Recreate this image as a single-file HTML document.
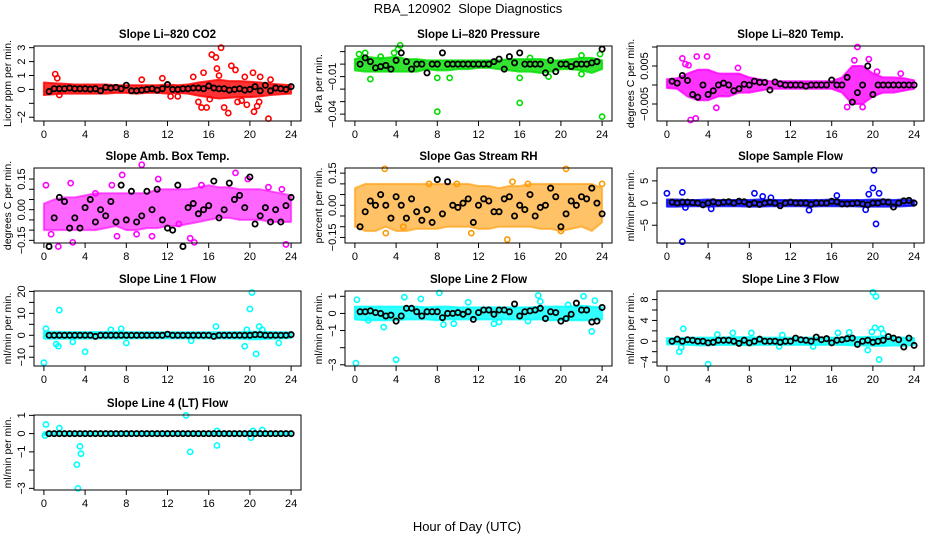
<!DOCTYPE html>
<html><head><meta charset="utf-8"><style>
html,body{margin:0;padding:0;background:#fff}
svg{display:block;font-family:"Liberation Sans",sans-serif}
</style></head><body>
<svg id="c" width="936" height="540">
<text x="468" y="13" font-size="13" text-anchor="middle">RBA_120902&#160; Slope Diagnostics</text>
<text x="467" y="531" font-size="13" text-anchor="middle">Hour of Day (UTC)</text>
</svg>
<script>
const meanHours=[0.5,1,1.5,2,2.5,3,3.5,4,4.5,5,5.5,6,6.5,7,7.5,8,8.5,9,9.5,10,10.5,11,11.5,12,12.5,13,13.5,14,14.5,15,15.5,16,16.5,17,17.5,18,18.5,19,19.5,20,20.5,21,21.5,22,22.5,23,23.5,24];
const bandHours=[0,1,2,3,4,5,6,7,8,9,10,11,12,13,14,15,16,17,18,19,20,21,22,23,24];
const xTicks=[0,4,8,12,16,20,24];

const co2Hi=[0.5,0.45,0.4,0.35,0.35,0.35,0.35,0.3,0.3,0.3,0.3,0.3,0.35,0.3,0.35,0.5,0.6,0.7,0.6,0.6,0.55,0.5,0.4,0.35,0.3];
const co2Lo=[-0.4,-0.35,-0.3,-0.3,-0.3,-0.3,-0.3,-0.25,-0.25,-0.3,-0.25,-0.25,-0.3,-0.25,-0.3,-0.45,-0.55,-0.65,-0.6,-0.55,-0.55,-0.5,-0.4,-0.35,-0.3];
const co2OutH=[1.1,1.3,9.5,11.5,14.5,15,15.3,15.5,15.8,16.3,16.7,17.2,17.5,17.9,18.2,18.6,19.7,20.3,20.4,20.7,21.8,16.8,19.2,12.3,13,21,22,1.5,17,18.8,19.5,16.1,20.9];
const co2OutV=[1.1,0.8,0.7,0.8,0.9,-0.9,-1.3,1.2,-1.3,2.5,2.3,3,-1.3,-1.7,1.7,1.4,-1.1,1.2,-1.6,-1.2,-2.1,1.5,-0.8,-0.5,-0.5,0.9,0.7,-0.4,1.0,-0.9,0.9,-0.7,-0.9];
const co2Mean=[-0.15,0.05,0.05,0.05,0.1,0.05,0.05,0.05,0.02,0.05,-0.1,0.15,0.1,0.15,0.05,0.3,-0.1,-0.1,-0.05,0.0,0.05,-0.05,0.05,0.35,0.0,0.0,0.05,0.05,0.1,0.1,0.05,0.25,0.1,0.05,0.05,-0.05,0.0,0.05,-0.05,0.0,0.2,-0.1,0.3,-0.1,0.1,0.05,0.0,0.2];
const co2Ticks=[-2,-1,0,1,2,3];
const co2Labels=["\u22122","","0","1","2","3"];

const presHi=[0.004,0.006,0.005,0.005,0.006,0.004,0.004,0.003,0.003,0.003,0.003,0.003,0.003,0.003,0.003,0.004,0.004,0.004,0.004,0.003,0.003,0.004,0.005,0.005,0.003];
const presLo=[-0.005,-0.006,-0.006,-0.006,-0.006,-0.006,-0.006,-0.004,-0.005,-0.005,-0.004,-0.004,-0.003,-0.003,-0.004,-0.005,-0.006,-0.006,-0.007,-0.006,-0.004,-0.004,-0.005,-0.007,-0.004];
const presOutH=[8,16,24,4.4,4.2,3.8,1,0.4,2.5,23.8,22,16,8,9.2,1.5,18.8,22,17];
const presOutV=[-0.038,-0.031,-0.042,0.015,0.012,0.009,0.009,0.008,0.006,0.008,-0.008,-0.011,-0.011,-0.011,-0.012,-0.01,0.007,0.005];
const presMean=[0,0.005,0.002,-0.003,-0.002,-0.001,-0.004,0.003,0.009,0.002,-0.004,0,0,-0.007,0,0,0.009,0,0,0,0,0,0,0,0,0,0.002,0.004,-0.004,0.006,0.001,0.009,0,0,0,0,-0.007,0.003,-0.006,0,0,-0.002,0,0,0,0.001,0.002,0.012];
const presTicks=[0.01,0,-0.01,-0.02,-0.03,-0.04];
const presLabels=["","","\u22120.01","","","\u22120.04"];

const tempHi=[0.0015,0.0018,0.003,0.004,0.004,0.003,0.003,0.003,0.002,0.0015,0.001,0.001,0.001,0.001,0.001,0.001,0.001,0.002,0.005,0.005,0.003,0.002,0.002,0.0018,0.0012];
const tempLo=[-0.0008,-0.001,-0.003,-0.004,-0.004,-0.003,-0.003,-0.002,-0.002,-0.0015,-0.001,-0.001,-0.001,-0.001,-0.001,-0.001,-0.001,-0.002,-0.005,-0.005,-0.003,-0.002,-0.002,-0.0015,-0.001];
const tempOutH=[2.3,2.8,2.9,3.9,1.5,4.8,18.5,18.2,19.6,17.5,19,6.9,1.8,2.1,20.4,22.7];
const tempOutV=[-0.0092,-0.0088,0.0075,0.0075,0.007,-0.006,0.01,0.0065,0.0068,-0.0058,-0.0058,0.0045,0.0055,0.0052,0.0035,0.003];
const tempMean=[0.001,0.0005,0.0025,0.0012,-0.0025,-0.0032,0.0,-0.0025,-0.0015,0.0,0.0005,0.0,-0.0015,-0.001,0.0002,0.0,0.001,0.0007,0.0007,-0.0013,0.0008,0.0003,0.0,0.0,0.0,0.0,-0.0003,0.0,0.0,0.0,0.0,0.0013,0.0,0.0,0.002,-0.0045,-0.002,0.0,0.005,-0.0025,0.0,0.0,0.0,0.0,0.0,0.0,0.0,0.0];
const tempTicks=[0.01,0.005,0,-0.005];
const tempLabels=["","0.005","","\u22120.005"];

const ambHi=[0.03,0.05,0.06,0.06,0.07,0.08,0.08,0.08,0.08,0.08,0.08,0.1,0.1,0.1,0.1,0.11,0.12,0.11,0.11,0.1,0.1,0.1,0.09,0.08,0.07];
const ambLo=[-0.1,-0.1,-0.1,-0.1,-0.1,-0.1,-0.09,-0.08,-0.1,-0.1,-0.09,-0.09,-0.08,-0.08,-0.07,-0.06,-0.05,-0.04,-0.04,-0.05,-0.05,-0.05,-0.06,-0.06,-0.06];
const ambOutH=[0.2,1.4,2.6,2.8,5,7.1,7.6,9.5,10.5,11.1,13.1,14.2,14.6,15.3,18.6,19.8,21.8,23.5,23.1,9,0.7,6.6];
const ambOutV=[0.12,-0.18,0.13,-0.16,0.08,-0.13,0.17,0.22,-0.13,0.15,-0.07,-0.14,-0.16,0.12,0.18,0.15,0.11,-0.17,0.1,-0.12,-0.12,0.12];
const ambMean=[-0.18,-0.04,0.06,0.04,-0.09,-0.04,-0.09,0.01,0.05,-0.06,0.0,-0.03,0.04,-0.06,0.12,-0.05,0.09,-0.06,-0.03,0.09,0.0,0.1,-0.05,-0.09,-0.1,0.12,-0.18,0.01,0.03,-0.02,0.0,0.02,0.14,-0.04,0.0,0.13,0.05,0.07,0.01,0.16,-0.07,-0.03,0.01,-0.06,0.0,-0.06,0.02,0.06];
const ambTicks=[-0.15,-0.1,-0.05,0,0.05,0.1,0.15];
const ambLabels=["\u22120.15","","","0.00","","","0.15"];

const rhHi=[0.08,0.1,0.1,0.1,0.1,0.1,0.1,0.1,0.1,0.1,0.1,0.1,0.09,0.09,0.08,0.09,0.09,0.1,0.1,0.1,0.1,0.1,0.1,0.1,0.08];
const rhLo=[-0.1,-0.12,-0.12,-0.1,-0.12,-0.12,-0.11,-0.11,-0.11,-0.1,-0.1,-0.1,-0.11,-0.11,-0.1,-0.1,-0.1,-0.1,-0.11,-0.11,-0.12,-0.11,-0.1,-0.12,-0.08];
const rhOutH=[2.9,3,7.2,9.9,11.3,14.8,15.3,16.8,20.5,20,24,4.7];
const rhOutV=[0.17,-0.13,0.1,0.1,-0.13,-0.16,0.11,0.1,0.17,-0.12,0.1,-0.1];
const rhMean=[-0.1,-0.03,0.02,0.0,0.05,0.0,-0.06,0.04,0.0,-0.06,0.03,-0.03,-0.07,-0.02,-0.08,0.12,-0.04,0.11,0.0,-0.01,0.01,0.03,-0.08,0.0,0.03,0.02,-0.03,-0.03,0.03,0.04,-0.05,0.0,-0.02,0.05,-0.05,-0.01,0.0,0.08,0.04,-0.1,-0.04,0.02,0.0,0.04,0.03,0.08,0.01,-0.04];
const rhTicks=[-0.15,-0.1,-0.05,0,0.05,0.1,0.15];
const rhLabels=["\u22120.15","","","0.00","","","0.15"];

const sfHi=[0.8,0.8,0.7,0.7,0.8,0.7,0.7,0.7,0.7,0.8,0.7,0.7,0.7,0.7,0.7,0.7,0.8,0.7,0.7,0.7,0.8,0.8,0.7,0.8,0.6];
const sfLo=[-0.8,-0.8,-0.7,-0.7,-0.8,-0.7,-0.7,-0.7,-0.8,-0.8,-0.7,-0.7,-0.7,-0.7,-0.8,-0.7,-0.7,-0.7,-0.7,-0.8,-0.8,-0.8,-0.8,-0.7,-0.6];
const sfOutH=[0,1.5,1.5,8.5,9.3,10.1,16.5,19.3,19.6,20,20.1,20.3,20.6,13.8,4.3,1.8];
const sfOutV=[2.2,2.4,-8.7,2.2,1.5,1.2,1.7,-1.5,2,3.4,7.4,-4.7,2.2,-1.6,-1.3,-1];
const sfMean=[0.2,0.0,0.2,0.2,0.1,0.0,-0.4,0.0,0.3,0.0,0.2,0.3,0.0,0.4,0.3,-0.3,0.0,-0.3,0.0,0.2,0.0,-0.6,0.0,0.2,0.0,0.0,0.0,-0.3,0.0,0.0,0.0,0.4,0.3,-0.2,-0.2,-0.1,0.0,-0.2,-0.4,0.0,0.0,0.3,0.2,-0.9,0.0,0.5,0.6,0.0];
const sfTicks=[-5,0,5];
const sfLabels=["\u22125","0","5"];

const l1Hi=[1.6,1.6,1.5,1.5,1.5,1.5,1.5,1.6,1.5,1.4,1.4,1.4,1.4,1.4,1.4,1.4,1.4,1.4,1.4,1.5,1.6,1.6,1.5,1.4,1.3];
const l1Lo=[-1.5,-1.6,-1.5,-1.5,-1.5,-1.4,-1.4,-1.5,-1.4,-1.4,-1.4,-1.4,-1.4,-1.4,-1.4,-1.4,-1.4,-1.4,-1.4,-1.5,-1.8,-1.8,-1.6,-1.4,-1.3];
const l1OutH=[0,0.2,1.2,1.4,1.5,2.8,4,7.5,8,14.3,16.7,19.5,19.7,20,20.2,20.6,20.9,22.8,21.2,6.5];
const l1OutV=[-12.5,3,-4,-5,11.5,-3,-7.5,3,-3.5,-2.5,4,-5,2.5,12,19.5,-8.5,4,-3.5,2.5,2.5];
const l1Mean=[0,0,0,0,0,0,0,0,0,-0.5,0,0,0,0,0,0,0,0,0,0,0,0,0,0.5,0,0,0,0,0,0,0,0,-0.5,0,0,0,0,0,0,0,0.3,0.3,0,0,0,0,0,0.3];
const l1Ticks=[-10,-5,0,5,10,15,20];
const l1Labels=["\u221210","","0","","10","","20"];

const l2Hi=[0.4,0.4,0.4,0.4,0.4,0.4,0.4,0.35,0.4,0.4,0.35,0.35,0.35,0.35,0.35,0.35,0.35,0.35,0.4,0.4,0.4,0.4,0.45,0.4,0.35];
const l2Lo=[-0.35,-0.4,-0.4,-0.4,-0.4,-0.35,-0.35,-0.35,-0.4,-0.35,-0.35,-0.35,-0.35,-0.35,-0.35,-0.35,-0.35,-0.35,-0.35,-0.4,-0.4,-0.4,-0.4,-0.4,-0.35];
const l2OutH=[0.1,0.2,4,4.8,6.4,8.2,2.8,8.6,9.6,11,13.5,17.8,18,22.2,23,23.3,1.3,14,16.8,20.7];
const l2OutV=[-2.9,0.8,-2.7,0.95,0.85,1.2,-0.8,-0.65,-0.6,0.65,-0.6,1.05,0.7,1,-1.05,0.75,-0.4,-0.5,-0.45,0.5];
const l2Mean=[0.1,0.1,0.15,0.05,0,-0.15,-0.1,-0.45,-0.15,0.3,0.3,0.1,-0.15,0.1,0.1,0.1,-0.25,0,0,0.05,-0.05,0.1,-0.35,0.05,0.2,0.2,-0.05,0.2,0.2,0.1,0.55,-0.15,0.1,0.15,0.2,0.3,-0.3,0.1,0.05,-0.45,-0.3,-0.05,0.6,0.2,0.2,-0.5,-0.45,0.35];
const l2Ticks=[-3,-2,-1,0,1];
const l2Labels=["\u22123","","\u22121","0","1"];

const l3Hi=[0.6,0.6,0.7,0.7,0.7,0.7,0.8,0.8,0.8,0.7,0.7,0.7,0.7,0.7,0.7,0.7,0.7,0.7,0.8,0.8,0.9,0.9,0.8,0.7,0.6];
const l3Lo=[-0.6,-0.6,-0.7,-0.8,-0.8,-0.7,-0.7,-0.7,-0.8,-0.7,-0.7,-0.7,-0.7,-0.7,-0.7,-0.7,-0.7,-0.7,-0.8,-0.8,-0.9,-0.9,-0.8,-0.9,-0.7];
const l3OutH=[1.2,1.6,1.4,4,4.9,6.4,8.2,11.2,10.9,17.7,19.5,19.9,20,20.3,20.2,20.8,20.6,21,16.6,14.2];
const l3OutV=[-2,2.4,-1.2,-4.4,1.3,1.6,1.6,1.2,-1,1.7,-1.7,1.8,9.4,8.6,2.6,2.4,-3.5,1.5,1.6,-1];
const l3Mean=[0,0.4,0,0.3,0.2,0,0,-0.3,-0.2,0.2,0.2,0.2,0,-0.4,0.2,-0.3,0,0.4,0,0,0,-0.2,0,0,0.6,0.3,0.2,0,0.8,0.3,0.5,-0.3,0.2,0.3,0.5,0.6,-0.6,0,0.2,-0.2,0,0.2,0.9,0.6,0.3,-1.1,0.6,-0.8];
const l3Ticks=[-4,-2,0,2,4,6,8];
const l3Labels=["\u22124","","0","","4","","8"];

const l4Hi=[0.08,0.08,0.08,0.08,0.08,0.08,0.08,0.08,0.08,0.08,0.08,0.08,0.08,0.08,0.08,0.08,0.08,0.08,0.08,0.08,0.08,0.08,0.08,0.08,0.06];
const l4Lo=[-0.08,-0.08,-0.08,-0.08,-0.08,-0.08,-0.08,-0.08,-0.08,-0.08,-0.08,-0.08,-0.08,-0.08,-0.08,-0.08,-0.08,-0.08,-0.08,-0.08,-0.08,-0.08,-0.08,-0.08,-0.06];
const l4OutH=[0.2,1.5,3.2,3.3,3.5,3.6,13.8,14.2,16.8,16.8,20.1,20.3,21.2,0.1];
const l4OutV=[0.5,0.3,-1.7,-3,-0.7,-1.1,1,-1,-0.65,0.15,-0.22,0.15,0.2,-0.1];
const l4Mean=[0,0,0,0,0,0,0,0,0,0,0,0,0,0,0,0,0,0,0,0,0,0,0,0,0,0,0,0,0,0,0,0,0,0,0,0,0,0,0,0,0,0,0,0,0,0,0,0];
const l4Ticks=[-3,-2,-1,0,1];
const l4Labels=["\u22123","","\u22121","0","1"];

const NS="http://www.w3.org/2000/svg";
const svg=document.getElementById('c');
function mk(tag,attrs,parent){const e=document.createElementNS(NS,tag);for(const k in attrs)e.setAttribute(k,attrs[k]);(parent||svg).appendChild(e);return e;}

function drawPanel(key,title,ylab,left,top,yTop,yBot,color,hi,lo,outH,outV,mean,ticks,labels){
  const W=267,H=75;
  const g=mk('g',{});
  
  
  const xs=h=>left+9.9+h*(W-19.8)/24;
  const ys=v=>top+(yTop-v)/(yTop-yBot)*H;
  let d='';
  bandHours.forEach((h,i)=>{d+=(i?'L':'M')+xs(h).toFixed(1)+','+ys(hi[i]).toFixed(1);});
  for(let i=bandHours.length-1;i>=0;i--){d+='L'+xs(bandHours[i]).toFixed(1)+','+ys(lo[i]).toFixed(1);}
  d+='Z';
  const op=(key==='rh'||key==='amb')?0.6:0.8;
  const band=mk('path',{d:d,fill:color,stroke:color,'stroke-width':2,'stroke-linejoin':'round','fill-opacity':op,'stroke-opacity':op},g);
  
  
  outH.forEach((h,i)=>{
    const c=mk('circle',{cx:xs(h),cy:ys(outV[i]),r:2.6,fill:'none',stroke:color,'stroke-width':1.6},g);
    
    
  });
  meanHours.forEach((h,i)=>{
    const c=mk('circle',{cx:xs(h),cy:ys(mean[i]),r:2.6,fill:'none',stroke:'#000','stroke-width':1.8},g);
    
    
  });
  const box=mk('rect',{x:left,y:top,width:W,height:H,fill:'none',stroke:'#000','stroke-width':1},g);
  
  
  const t=mk('text',{x:left+W/2,y:top-8,'font-size':11.5,'font-weight':'bold','text-anchor':'middle'},g);
  t.textContent=title;
  
  
  mk('line',{x1:xs(0),x2:xs(24),y1:top+H,y2:top+H,stroke:'#000'},g);
  xTicks.forEach(v=>{
    mk('line',{x1:xs(v),x2:xs(v),y1:top+H,y2:top+H+5,stroke:'#000'},g);
    const l=mk('text',{x:xs(v),y:top+H+17,'font-size':11,'text-anchor':'middle'},g);
    l.textContent=v;
    
    
  });
  ticks.forEach((v,i)=>{
    const y=ys(v);
    mk('line',{x1:left-5,x2:left,y1:y,y2:y,stroke:'#000'},g);
    if(labels[i]){
      const l=mk('text',{x:0,y:0,'font-size':11,'text-anchor':'middle',transform:'translate('+(left-9)+','+y+') rotate(-90)'},g);
      l.textContent=labels[i];
      
      
    }
  });
  const yl=mk('text',{x:0,y:0,'font-size':10.5,'text-anchor':'middle',transform:'translate('+(left-23)+','+(top+H/2)+') rotate(-90)'},g);
  yl.textContent=ylab;
  
  
}
const L=[34,345,657],T=[46,168,291,415];
drawPanel('co2','Slope Li\u2013820 CO2','Licor ppm per min.',L[0],T[0],3.12,-2.27,'#ff0000',co2Hi,co2Lo,co2OutH,co2OutV,co2Mean,co2Ticks,co2Labels);
drawPanel('pressure','Slope Li\u2013820 Pressure','kPa per min.',L[1],T[0],0.0145,-0.0455,'#00dd00',presHi,presLo,presOutH,presOutV,presMean,presTicks,presLabels);
drawPanel('temp','Slope Li\u2013820 Temp.','degrees C per min.',L[2],T[0],0.01026,-0.00947,'#ff00ff',tempHi,tempLo,tempOutH,tempOutV,tempMean,tempTicks,tempLabels);
drawPanel('amb','Slope Amb. Box Temp.','degrees C per min.',L[0],T[1],0.204,-0.163,'#ff00ff',ambHi,ambLo,ambOutH,ambOutV,ambMean,ambTicks,ambLabels);
drawPanel('rh','Slope Gas Stream RH','percent per min.',L[1],T[1],0.174,-0.176,'#ff9900',rhHi,rhLo,rhOutH,rhOutV,rhMean,rhTicks,rhLabels);
drawPanel('sampleflow','Slope Sample Flow','ml/min per min.',L[2],T[1],7.9,-9.0,'#0000ff',sfHi,sfLo,sfOutH,sfOutV,sfMean,sfTicks,sfLabels);
drawPanel('line1','Slope Line 1 Flow','ml/min per min.',L[0],T[2],20.2,-14,'#00ffff',l1Hi,l1Lo,l1OutH,l1OutV,l1Mean,l1Ticks,l1Labels);
drawPanel('line2','Slope Line 2 Flow','ml/min per min.',L[1],T[2],1.31,-3.07,'#00ffff',l2Hi,l2Lo,l2OutH,l2OutV,l2Mean,l2Ticks,l2Labels);
drawPanel('line3','Slope Line 3 Flow','ml/min per min.',L[2],T[2],9.65,-4.75,'#00ffff',l3Hi,l3Lo,l3OutH,l3OutV,l3Mean,l3Ticks,l3Labels);
drawPanel('line4','Slope Line 4 (LT) Flow','ml/min per min.',L[0],T[3],1.02,-3.09,'#00ffff',l4Hi,l4Lo,l4OutH,l4OutV,l4Mean,l4Ticks,l4Labels);
</script>
</body></html>
